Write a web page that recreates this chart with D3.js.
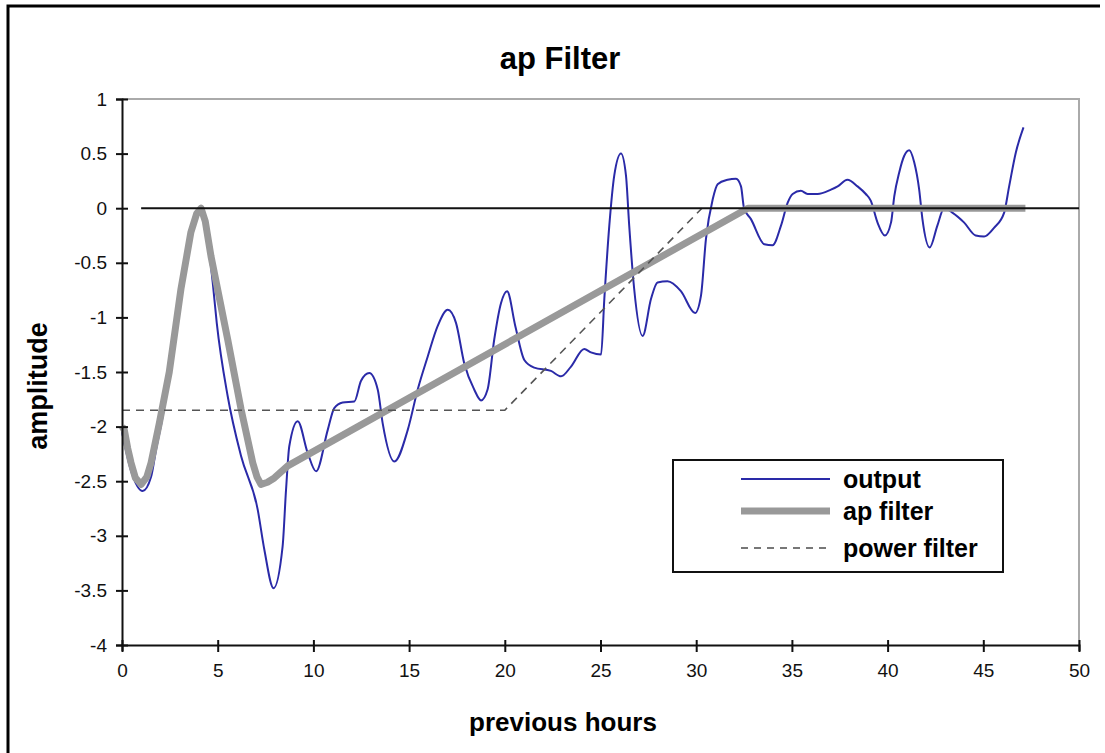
<!DOCTYPE html>
<html>
<head>
<meta charset="utf-8">
<script src="https://cdn.jsdelivr.net/npm/d3@7"></script>
<style>
  html, body { margin: 0; padding: 0; background: #fff; }
  svg { display: block; }
  .tick text { font-family: "Liberation Sans Narrow", "Arial Narrow", "Liberation Sans", Arial, sans-serif; font-size: 19px; fill: #111; }
</style>
</head>
<body>
<svg id="chart" width="1105" height="753"></svg>
<script>
// ---- data ----
const outputHours = [0,0.5,1.08,1.52,1.78,2.12,2.47,3.0,3.5,4.0,4.35,4.74,4.95,5.52,6.22,7.09,7.44,7.92,8.39,8.57,8.74,9.18,9.70,10.14,10.75,11.09,11.53,12.14,12.49,12.92,13.36,13.62,14.23,14.93,15.45,15.97,16.49,17.02,17.45,17.88,18.40,18.76,19.1,19.45,19.80,20.12,20.55,21.02,21.54,22.41,22.94,23.46,24.15,24.5,25.03,25.2,25.46,25.72,26.07,26.33,26.5,26.76,27.2,27.64,27.98,28.5,29.2,29.94,30.25,30.51,30.86,31.12,31.64,32.08,32.34,32.5,32.86,33.56,33.99,34.43,34.78,35.04,35.47,35.82,36.34,37.04,37.39,37.9,38.43,38.86,39.12,39.47,39.86,40.18,40.35,40.61,40.87,41.13,41.39,41.65,41.82,42.2,42.6,42.95,43.38,43.99,44.6,45.04,45.56,46.09,46.35,46.70,47.1];
const outputValues = [-2.05,-2.42,-2.59,-2.46,-2.21,-1.91,-1.51,-0.85,-0.3,-0.02,-0.15,-0.68,-1.05,-1.72,-2.27,-2.76,-3.13,-3.48,-3.10,-2.58,-2.18,-1.95,-2.24,-2.41,-2.03,-1.83,-1.78,-1.77,-1.58,-1.51,-1.66,-1.97,-2.32,-2.03,-1.66,-1.36,-1.08,-0.93,-1.05,-1.42,-1.66,-1.76,-1.66,-1.20,-0.87,-0.76,-1.08,-1.39,-1.46,-1.49,-1.54,-1.45,-1.29,-1.32,-1.34,-0.83,-0.16,0.30,0.50,0.30,-0.16,-0.74,-1.17,-0.83,-0.68,-0.67,-0.76,-0.96,-0.80,-0.28,0.08,0.22,0.26,0.27,0.20,0.0,-0.10,-0.33,-0.34,-0.16,0.05,0.13,0.16,0.13,0.13,0.17,0.20,0.26,0.20,0.13,0.07,-0.13,-0.25,-0.13,0.11,0.33,0.48,0.53,0.42,0.17,-0.10,-0.36,-0.16,0.0,-0.04,-0.13,-0.25,-0.26,-0.18,-0.04,0.20,0.51,0.74];

const apHours  = [0,0.12,0.3,0.47,0.7,1.0,1.3,1.52,1.95,2.47,3.08,3.6,3.9,4.13,4.35,4.65,5.52,6.22,6.83,7.05,7.26,7.6,7.96,8.66,32.7,47.2];
const apValues = [-2.0,-2.03,-2.2,-2.33,-2.47,-2.53,-2.46,-2.33,-1.97,-1.50,-0.74,-0.22,-0.05,0,-0.12,-0.44,-1.2,-1.84,-2.33,-2.46,-2.53,-2.51,-2.47,-2.36,0,0];

const powerHours  = [0,20,30.3];
const powerValues = [-1.85,-1.85,0];

const zeroHours  = [1,50];
const zeroValues = [0,0];

const xTicks = [0,5,10,15,20,25,30,35,40,45,50];
const yTicks = [1,0.5,0,-0.5,-1,-1.5,-2,-2.5,-3,-3.5,-4];
const yTickLabels = ["1","0.5","0","-0.5","-1","-1.5","-2","-2.5","-3","-3.5","-4"];

const seriesNames = ["output","ap filter","power filter"];

// ---- chart ----
const svg = d3.select("#chart");
const x = d3.scaleLinear().domain([0,50]).range([122,1079]);
const y = d3.scaleLinear().domain([-4,1]).range([645,99]);

// outer frame (left + top)
svg.append("path")
  .attr("d", "M8,753 L8,6 L1100,6")
  .attr("fill","none").attr("stroke","#000").attr("stroke-width",3);

// plot frame top/right (light grey)
svg.append("path")
  .attr("d", `M${x(0)},${y(1)} L${x(50)},${y(1)} L${x(50)},${y(-4)}`)
  .attr("fill","none").attr("stroke","#aaa").attr("stroke-width",2);

const pts = (hs, vs) => hs.map((h,i)=>[h, vs[i]]);
const smooth = d3.line().x(d=>x(d[0])).y(d=>y(d[1])).curve(d3.curveMonotoneX);
const straight = d3.line().x(d=>x(d[0])).y(d=>y(d[1]));

// output
svg.append("path").datum(pts(outputHours, outputValues))
  .attr("d", smooth).attr("fill","none")
  .attr("stroke","#2a2aa8").attr("stroke-width",2);

// ap filter
svg.append("path").datum(pts(apHours, apValues))
  .attr("d", straight).attr("fill","none")
  .attr("stroke","#999").attr("stroke-width",7)
  .attr("stroke-linejoin","round");

// power filter
svg.append("path").datum(pts(powerHours, powerValues))
  .attr("d", straight).attr("fill","none")
  .attr("stroke","#555").attr("stroke-width",1.6)
  .attr("stroke-dasharray","8,6");

// zero line
svg.append("path").datum(pts(zeroHours, zeroValues))
  .attr("d", straight).attr("fill","none")
  .attr("stroke","#111").attr("stroke-width",2);

// axes
const yAxis = d3.axisLeft(y).tickValues(yTicks)
  .tickFormat((d,i)=>yTickLabels[i]).tickSize(6).tickPadding(9);
const gy = svg.append("g").attr("transform",`translate(${x(0)},0)`).call(yAxis);
gy.select(".domain").attr("stroke","#111").attr("stroke-width",2);
gy.selectAll(".tick line").attr("x1",6).attr("x2",-6).attr("stroke","#111").attr("stroke-width",2);

const xAxis = d3.axisBottom(x).tickValues(xTicks).tickSize(6).tickPadding(13);
const gx = svg.append("g").attr("transform",`translate(0,${y(-4)})`).call(xAxis);
gx.select(".domain").attr("stroke","#111").attr("stroke-width",2);
gx.selectAll(".tick line").attr("y1",-5).attr("y2",7).attr("stroke","#111").attr("stroke-width",2);

// titles
svg.append("text").attr("x",560).attr("y",69).attr("text-anchor","middle")
  .attr("font-family","Liberation Sans, Arial, sans-serif").attr("font-weight","bold")
  .attr("font-size",31).text("ap Filter");
svg.append("text").attr("x",563).attr("y",731).attr("text-anchor","middle")
  .attr("font-family","Liberation Sans, Arial, sans-serif").attr("font-weight","bold")
  .attr("font-size",26).text("previous hours");
svg.append("text").attr("transform","translate(47,386) rotate(-90)").attr("text-anchor","middle")
  .attr("font-family","Liberation Sans, Arial, sans-serif").attr("font-weight","bold")
  .attr("font-size",27).text("amplitude");

// legend
const lg = svg.append("g");
lg.append("rect").attr("x",673).attr("y",460).attr("width",330).attr("height",112)
  .attr("fill","#fff").attr("stroke","#111").attr("stroke-width",2);
const rows = [479, 511, 548];
const styles = [
  {stroke:"#2a2aa8", w:2, dash:null},
  {stroke:"#999", w:7, dash:null},
  {stroke:"#777", w:2, dash:"7,6"}
];
seriesNames.forEach((name,i)=>{
  lg.append("line").attr("x1",741).attr("x2",830).attr("y1",rows[i]).attr("y2",rows[i])
    .attr("stroke",styles[i].stroke).attr("stroke-width",styles[i].w)
    .attr("stroke-dasharray",styles[i].dash);
  lg.append("text").attr("x",843).attr("y",rows[i]).attr("dy","0.35em")
    .attr("font-family","Liberation Sans, Arial, sans-serif").attr("font-weight","bold")
    .attr("font-size",25).text(name);
});
</script>
</body>
</html>
